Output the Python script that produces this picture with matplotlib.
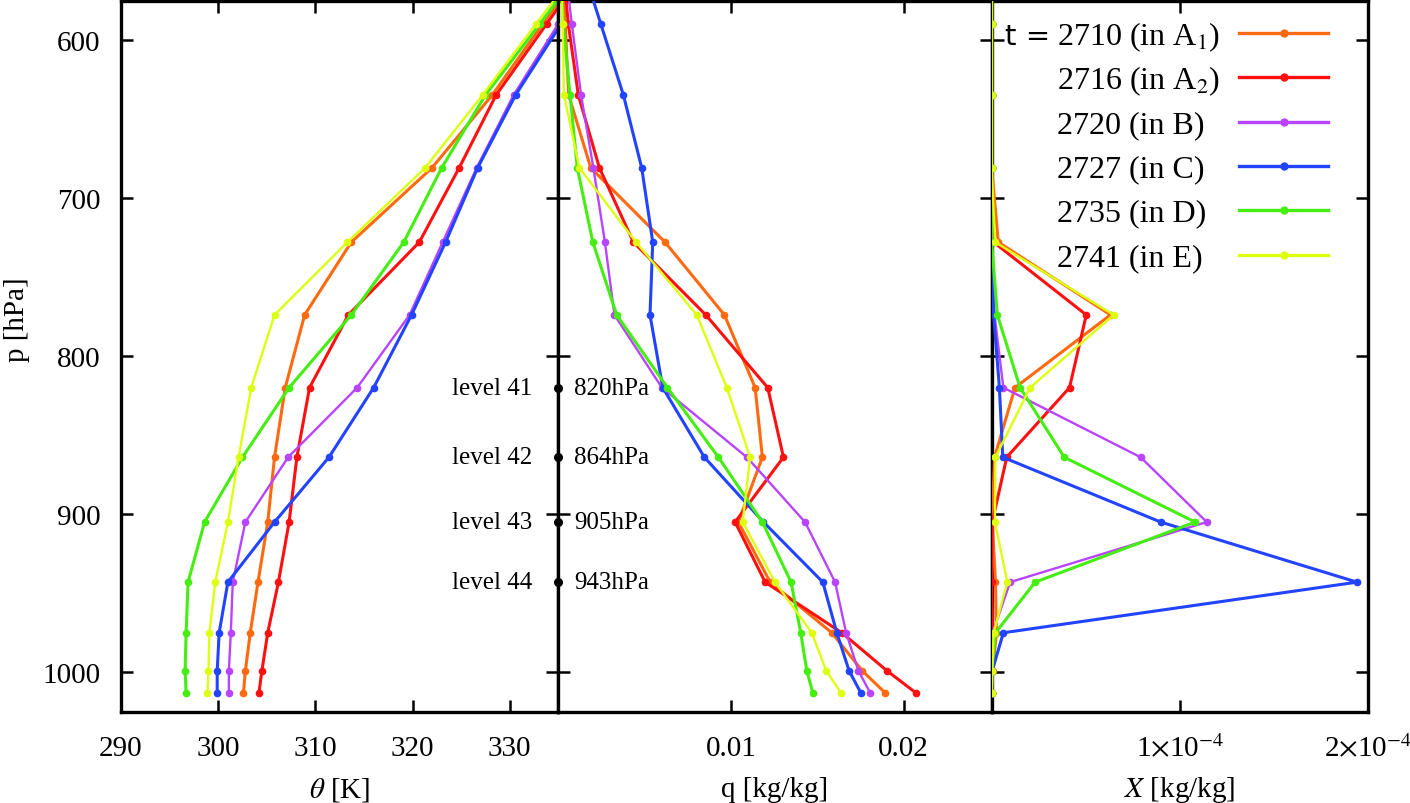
import matplotlib.pyplot as plt
from matplotlib.lines import Line2D

plt.rcParams['font.family'] = 'Liberation Serif'
plt.rcParams['mathtext.fontset'] = 'stix'

# model pressure levels [hPa] (top level lies above the plotted range)
levels = [545, 590, 635, 681, 728, 774, 820, 864, 905, 943, 975, 999, 1013]

times = ['2710', '2716', '2720', '2727', '2735', '2741']
regions = ['A$_1$', 'A$_2$', 'B', 'C', 'D', 'E']
colors = ['#ff6a10', '#ff1010', '#b844ff', '#2244ff', '#44ee10', '#ddff10']
widths = [2.2, 2.2, 1.7, 2.2, 2.2, 1.7]

# potential temperature [K]
theta_2710 = [338.7, 333.4, 328.2, 322.0, 313.7, 308.9, 306.9, 305.8, 305.1, 304.1, 303.3, 302.8, 302.6]
theta_2716 = [339.0, 333.8, 328.6, 324.8, 320.7, 313.4, 309.4, 308.1, 307.3, 306.2, 305.1, 304.5, 304.2]
theta_2720 = [340.0, 335.0, 330.4, 326.6, 323.1, 319.7, 314.3, 307.2, 302.8, 301.5, 301.3, 301.1, 301.1]
theta_2727 = [340.2, 335.3, 330.6, 326.7, 323.4, 319.9, 316.0, 311.4, 305.8, 301.0, 300.1, 299.9, 299.9]
theta_2735 = [338.6, 333.1, 327.5, 323.0, 319.1, 313.7, 307.3, 302.5, 298.6, 296.9, 296.7, 296.6, 296.7]
theta_2741 = [338.3, 332.7, 327.2, 321.3, 313.3, 305.8, 303.4, 302.1, 301.0, 299.7, 299.1, 299.0, 298.9]

# specific humidity [kg/kg]
q_2710 = [0.0001, 0.0004, 0.0006, 0.00188, 0.00618, 0.00962, 0.0114, 0.01182, 0.01043, 0.01227, 0.01584, 0.0176, 0.01893]
q_2716 = [0.0002, 0.00058, 0.00116, 0.00238, 0.00435, 0.00854, 0.01213, 0.01304, 0.01024, 0.01198, 0.01642, 0.01903, 0.02071]
q_2720 = [0.0003, 0.00078, 0.00132, 0.00203, 0.0027, 0.00325, 0.006, 0.01092, 0.01429, 0.01603, 0.01667, 0.01738, 0.01806]
q_2727 = [0.00115, 0.00246, 0.00377, 0.00483, 0.00547, 0.00531, 0.00605, 0.00846, 0.01188, 0.01532, 0.01613, 0.01684, 0.01752]
q_2735 = [0.0001, 0.00028, 0.00068, 0.0011, 0.002, 0.00338, 0.00632, 0.00927, 0.01182, 0.01348, 0.01404, 0.01439, 0.01474]
q_2741 = [0.0001, 0.00025, 0.00033, 0.00122, 0.0045, 0.00802, 0.00976, 0.01111, 0.01068, 0.01255, 0.01468, 0.01551, 0.01638]

# X [1e-4 kg/kg]
x_2710 = [0, 0, 0, 0, 0.035, 0.632, 0.124, 0.015, 0.003, 0.02, 0.025, 0.005, 0]
x_2716 = [0, 0, 0, 0, 0.01, 0.503, 0.414, 0.08, 0.003, 0, 0.005, 0, 0]
x_2720 = [0, 0, 0, 0, 0, 0.015, 0.062, 0.792, 1.144, 0.098, 0.005, 0, 0]
x_2727 = [0, 0, 0, 0, 0, 0.01, 0.041, 0.059, 0.899, 1.943, 0.062, 0.003, 0]
x_2735 = [0, 0, 0, 0, 0, 0.03, 0.151, 0.386, 1.082, 0.231, 0.02, 0, 0]
x_2741 = [0, 0, 0, 0, 0.018, 0.649, 0.204, 0.02, 0.017, 0.083, 0.01, 0.003, 0]

theta_all = [theta_2710, theta_2716, theta_2720, theta_2727, theta_2735, theta_2741]
q_all = [q_2710, q_2716, q_2720, q_2727, q_2735, q_2741]
x_all = [x_2710, x_2716, x_2720, x_2727, x_2735, x_2741]

# marked levels
level_num = [41, 42, 43, 44]
level_p = [820, 864, 905, 943]

W, H = 1410, 804
fig = plt.figure(figsize=(W / 100, H / 100), dpi=100)

def px(x0, x1):
    # axes rectangle from pixel columns, common top/bottom
    return [x0 / W, 1 - 713.3 / H, (x1 - x0) / W, (713.3 - 1.5) / H]

ax1 = fig.add_axes(px(121, 558.3))
ax2 = fig.add_axes(px(558.3, 991.7))
ax3 = fig.add_axes(px(991.7, 1367.7))

for i in range(6):
    kw = dict(color=colors[i], lw=widths[i], marker='o', ms=4.5, zorder=3)
    ax1.plot(theta_all[i], levels, **kw)
    ax2.plot(q_all[i], levels, **kw)
    ax3.plot([v * 1e-4 for v in x_all[i]], levels, **kw)

ax1.set_xlim(290, 335)
ax1.set_xticks([290, 300, 310, 320, 330])
ax2.set_xlim(0, 0.0251)
ax2.set_xticks([0.01, 0.02])
ax2.set_xticklabels(['0.01', '0.02'])
ax3.set_xlim(0, 2e-4)
ax3.set_xticks([1e-4, 2e-4])
ax3.set_xticklabels([r'1$\times$10$^{-4}$', r'2$\times$10$^{-4}$'])

for ax in (ax1, ax2, ax3):
    ax.set_ylim(1025.3, 575.2)
    ax.set_yticks([600, 700, 800, 900, 1000])
    ax.tick_params(direction='in', length=8.5, width=1.8, top=True, right=True,
                   labelsize=21)
    ax.tick_params(axis='x', pad=16)
    for s in ax.spines.values():
        s.set_linewidth(2.4)
ax1.tick_params(axis='y', pad=15)
ax2.tick_params(axis='y', labelleft=False)
ax3.tick_params(axis='y', labelleft=False)

# level markers on the theta/q boundary
ax2.plot([0] * len(level_p), level_p, 'o', color='black', ms=5.5, clip_on=False, zorder=6)
for n, p in zip(level_num, level_p):
    ax1.text(332.3, p, f'level {n}', ha='right', va='center', size=18)
    ax2.text(0.00091, p, f'{p}hPa', ha='left', va='center', size=18)

# axis titles
fig.text(17 / W, 1 - 320 / H, 'p [hPa]', rotation=90, ha='center', va='center', size=21)
fig.text(340 / W, 1 - 790 / H, r'$\theta$ [K]', ha='center', va='center', size=21)
fig.text(775 / W, 1 - 790 / H, 'q [kg/kg]', ha='center', va='center', size=21)
fig.text(1180 / W, 1 - 790 / H, r'$X$ [kg/kg]', ha='center', va='center', size=21)

# key
for i in range(6):
    y = 34 + 44.3 * i
    fy = 1 - y / H
    fig.text(1057 / W, 1 - (y + 3) / H, f'{times[i]} (in {regions[i]})',
             ha='left', va='center', size=23)
    fig.add_artist(Line2D([1239 / W, 1328 / W], [fy, fy], color=colors[i], lw=2.4))
    fig.add_artist(Line2D([1284 / W], [fy], marker='o', ms=5, color=colors[i]))
fig.text(1050 / W, 1 - 37 / H, 't =', ha='right', va='center', size=21, family='DejaVu Sans')

fig.savefig('out.png', dpi=100)
